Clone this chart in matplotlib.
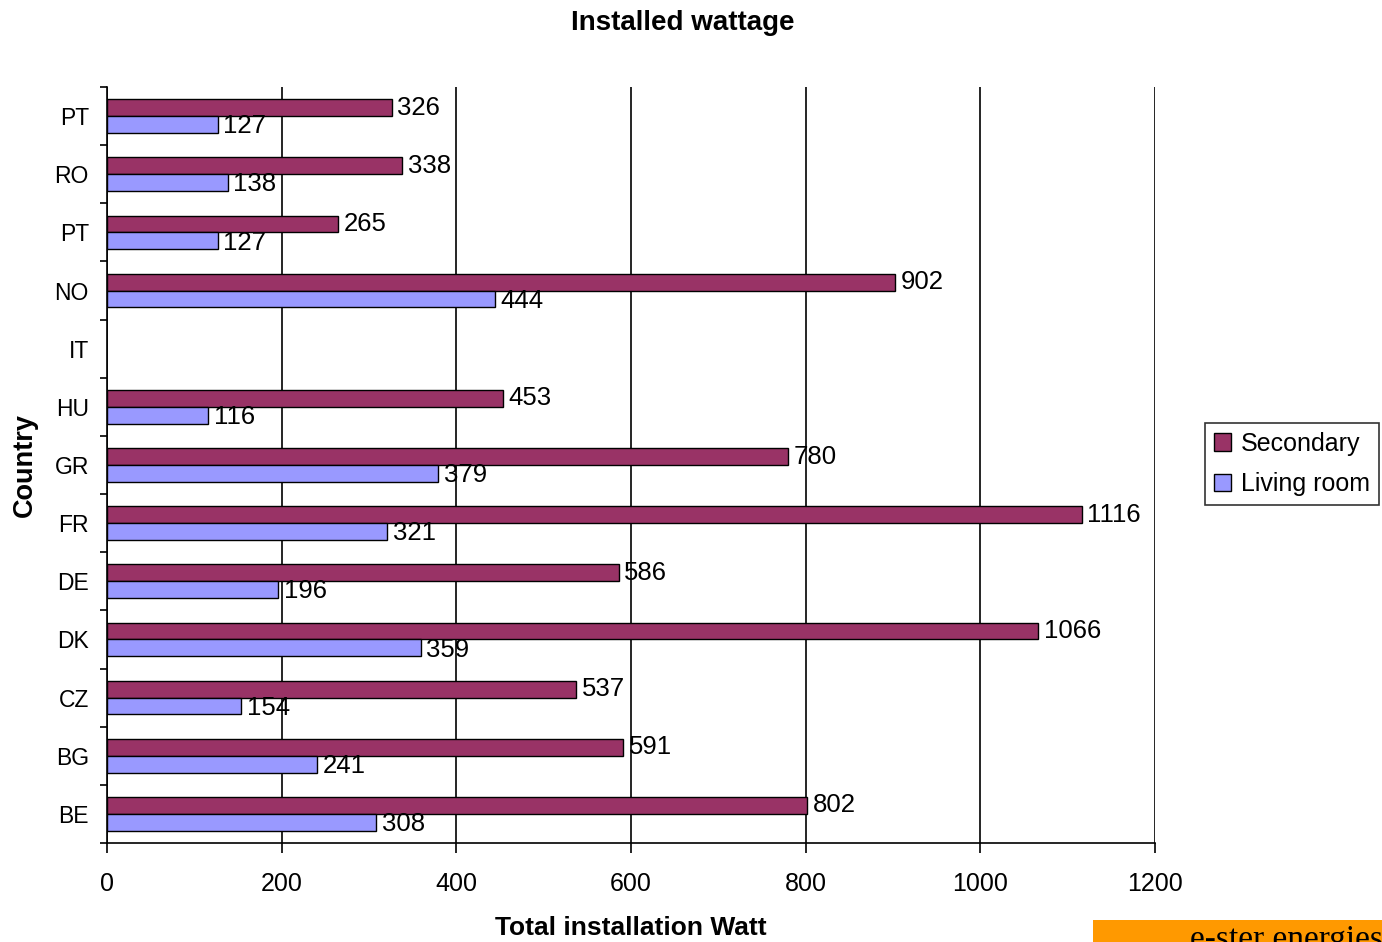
import matplotlib.pyplot as plt
import numpy as np
from matplotlib.patches import Rectangle

plt.rcParams['font.family'] = ['Liberation Sans', 'DejaVu Sans']

# Data (bottom to top as drawn)
countries = ["BE", "BG", "CZ", "DK", "DE", "FR", "GR", "HU", "IT", "NO", "PT", "RO", "PT"]
secondary = [802, 591, 537, 1066, 586, 1116, 780, 453, np.nan, 902, 265, 338, 326]
living_room = [308, 241, 154, 359, 196, 321, 379, 116, np.nan, 444, 127, 138, 127]

W, H = 1382, 942
fig = plt.figure(figsize=(W / 100, H / 100), dpi=100)
ax = fig.add_axes([107 / W, 1 - 843 / H, (1155 - 107) / W, (843 - 87) / H])

y = np.arange(len(countries))
h = 0.29
ax.barh(y + h / 2, secondary, height=h, color="#993366", edgecolor="black", linewidth=1, label="Secondary", zorder=3)
ax.barh(y - h / 2, living_room, height=h, color="#9999FF", edgecolor="black", linewidth=1, label="Living room", zorder=3)

for yi, v in zip(y, secondary):
    if not np.isnan(v):
        ax.annotate(f"{v:.0f}", (v, yi + h / 2), xytext=(4, 0), textcoords="offset points",
                    va="center", ha="left", fontsize=18.5, zorder=4)
for yi, v in zip(y, living_room):
    if not np.isnan(v):
        ax.annotate(f"{v:.0f}", (v, yi - h / 2 - 0.03), xytext=(4, 0), textcoords="offset points",
                    va="center", ha="left", fontsize=18.5, zorder=4)

ax.set_xlim(0, 1200)
ax.set_ylim(-0.5, len(countries) - 0.5)
ax.set_xticks(np.arange(0, 1201, 200))
ax.set_yticks(y)
ax.set_yticklabels(countries)
ax.set_yticks(np.arange(-0.5, len(countries), 1), minor=True)

ax.tick_params(axis="y", which="major", length=0, pad=13, labelsize=16.5)
ax.tick_params(axis="y", which="minor", length=5, width=1.2, direction="out")
ax.tick_params(axis="x", which="major", length=7, width=1.2, pad=14, labelsize=18)

ax.grid(axis="x", color="black", linewidth=1.2, zorder=0)
ax.spines["top"].set_visible(False)
ax.spines["right"].set_visible(False)
ax.spines["left"].set_linewidth(1.2)
ax.spines["bottom"].set_linewidth(1.2)

fig.text(683 / W, 1 - 23 / H, "Installed wattage", ha="center", va="center", fontsize=20, fontweight="bold")
fig.text(631 / W, 1 - 928 / H, "Total installation Watt", ha="center", va="center", fontsize=19, fontweight="bold")
fig.text(25 / W, 1 - 465 / H, "Country", ha="center", va="center", rotation=90, fontsize=19.5, fontweight="bold")

leg = ax.legend(loc="upper left", bbox_to_anchor=(1205 / W, 1 - 423 / H), bbox_transform=fig.transFigure,
                borderaxespad=0, fontsize=18, frameon=True, fancybox=False, handlelength=0.7,
                handleheight=0.7, handletextpad=0.4, labelspacing=0.65, borderpad=0.35)
leg.get_frame().set_edgecolor("black")
leg.get_frame().set_linewidth(1.2)

# orange footer strip
fig.patches.append(Rectangle((1093 / W, 0), 1 - 1093 / W, 22 / H, transform=fig.transFigure,
                             facecolor="#FF9900", edgecolor="none"))
fig.text(1190 / W, -13 / H, "e-ster energies", ha="left", va="bottom", fontsize=24,
         family=["Liberation Serif", "DejaVu Serif"])

fig.savefig("out.png", dpi=100)
